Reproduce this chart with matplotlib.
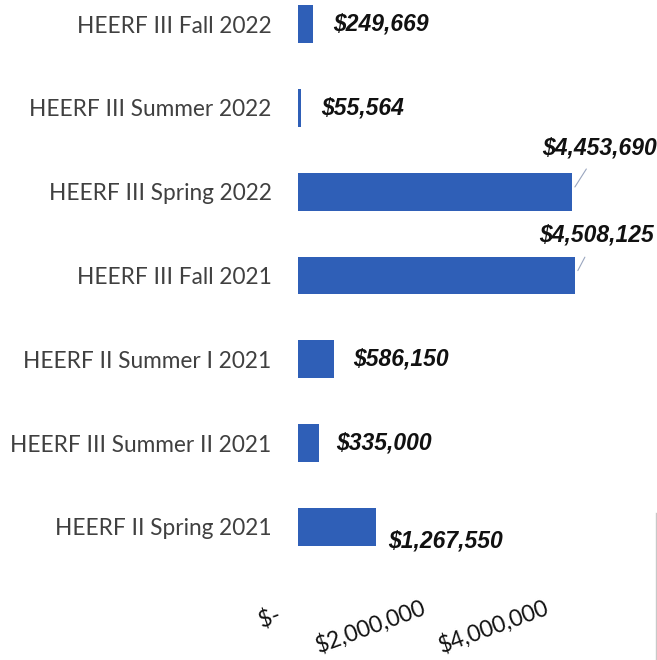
import numpy as np
from matplotlib import pyplot as plt
from matplotlib.ticker import FuncFormatter
from matplotlib.lines import Line2D

# categories listed bottom -> top
categories = ["HEERF II Spring 2021", "HEERF III Summer II 2021", "HEERF II Summer I 2021",
              "HEERF III Fall 2021", "HEERF III Spring 2022", "HEERF III Summer 2022",
              "HEERF III Fall 2022"]
amounts = [1267550, 335000, 586150, 4508125, 4453690, 55564, 249669]
x_ticks = [0, 2000000, 4000000]

# label offsets in pixels from bar end (dx, dy), and whether to draw a leader line
label_offsets = [(12, -14), (18, 0), (19, 0), (21, 40), (28, 44), (20, 0), (20, 0)]
leaders = [False, False, False, True, True, False, False]

bar_color = "#2f5fb7"

def money(v, pos=None):
    if v == 0:
        return "$-"
    return "${:,.0f}".format(v)

def tick_money(v, pos=None):
    # excel accounting style pads the zero label
    if v == 0:
        return "$-    "
    return money(v)

fig = plt.figure(figsize=(6.57, 6.60), dpi=100)
ax = fig.add_axes([298 / 657, 90 / 660, 359 / 657, 570 / 660])

y = np.arange(len(categories))
ax.barh(y, amounts, height=0.45, color=bar_color, edgecolor="none")

lbl = dict(fontsize=16.5, fontweight="bold", fontstyle="italic",
           family="Liberation Sans", color="#111111")
for i, v in enumerate(amounts):
    dx, dy = label_offsets[i]
    if leaders[i]:
        ax.annotate(money(v), xy=(v, y[i]), xytext=(dx, dy), textcoords="offset pixels",
                    ha="center", va="center",
                    arrowprops=dict(arrowstyle="-", color="#9aa6bf", lw=0.8,
                                    shrinkA=6, shrinkB=4), **lbl)
    else:
        ax.annotate(money(v), xy=(v, y[i]), xytext=(dx, dy), textcoords="offset pixels",
                    ha="left", va="center", **lbl)

ax.set_xlim(0, 359 / 61.5 * 1e6)
ax.set_ylim(-(570 - 527) / 83.8, 6 + 24 / 83.8)

ax.set_yticks(y)
ax.set_yticklabels(categories, family="Lato", fontsize=16.3, color="#404040")
ax.set_xticks(x_ticks)
ax.xaxis.set_major_formatter(FuncFormatter(tick_money))
for lab in ax.get_xticklabels():
    lab.set_rotation(20)
    lab.set_ha("right")
    lab.set_rotation_mode("anchor")
    lab.set_family("Lato")
    lab.set_fontsize(16.5)
    lab.set_color("#111111")
ax.tick_params(axis="x", length=0, pad=19)
ax.tick_params(axis="y", length=0, pad=19)

for s in ax.spines.values():
    s.set_visible(False)

# faint page edge seen on the right of the scan
fig.add_artist(Line2D([656 / 657, 656 / 657], [0, 147 / 660], color="#c8c8c8", lw=1))

fig.savefig("out.png", dpi=100)
